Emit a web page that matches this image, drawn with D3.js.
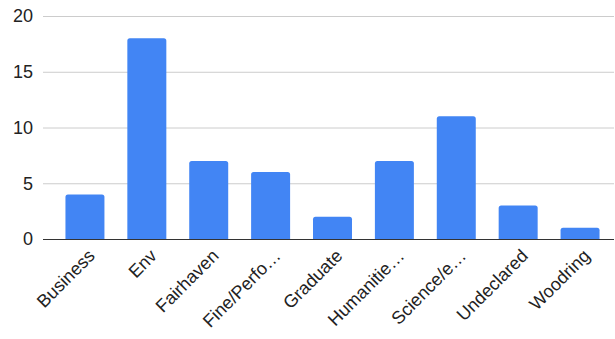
<!DOCTYPE html>
<html>
<head>
<meta charset="utf-8">
<script src="https://cdn.jsdelivr.net/npm/d3@7"></script>
<style>
  body { margin: 0; background: #fff; }
  svg { display: block; font-family: Arial, "Liberation Sans", sans-serif; }
</style>
</head>
<body>
<div id="chart"></div>
<script>
// categories + counts
var categories = ["Business", "Env", "Fairhaven", "Fine/Perfo\u2026", "Graduate",
                  "Humanitie\u2026", "Science/e\u2026", "Undeclared", "Woodring"]
var counts = [4, 18, 7, 6, 2, 7, 11, 3, 1]
var yTicks = [0, 5, 10, 15, 20]

var width = 615
var height = 339

var gridLeft = 43
var gridRight = 614

var x = d3.scaleBand().domain(categories).range([54, 611])
  .paddingInner(0.37).paddingOuter(0.185)
var y = d3.scaleLinear().domain([0, 20]).range([239, 16])

var svg = d3.select("#chart").append("svg")
  .attr("width", width)
  .attr("height", height)

// gridlines
svg.append("g").selectAll("line")
  .data(yTicks.filter(function(d) { return d > 0 }))
  .enter().append("line")
  .attr("x1", gridLeft).attr("x2", gridRight)
  .attr("y1", function(d) { return y(d) + 0.5 })
  .attr("y2", function(d) { return y(d) + 0.5 })
  .attr("stroke", "#cccccc")
  .attr("stroke-width", 1)

// y labels
svg.append("g").selectAll("text")
  .data(yTicks)
  .enter().append("text")
  .attr("x", 33)
  .attr("y", function(d) { return y(d) })
  .attr("dy", "0.35em")
  .attr("text-anchor", "end")
  .attr("font-size", 18)
  .attr("fill", "#222")
  .text(function(d) { return d })

// bars, rounded on top only
var r = 2.5
svg.append("g").selectAll("path")
  .data(counts)
  .enter().append("path")
  .attr("fill", "#4285f4")
  .attr("d", function(d, i) {
    var x0 = x(categories[i]), w = x.bandwidth()
    var top = y(d), bottom = y(0)
    return "M" + x0 + "," + bottom +
      "V" + (top + r) +
      "Q" + x0 + "," + top + " " + (x0 + r) + "," + top +
      "H" + (x0 + w - r) +
      "Q" + (x0 + w) + "," + top + " " + (x0 + w) + "," + (top + r) +
      "V" + bottom + "Z"
  })

// baseline
svg.append("line")
  .attr("x1", gridLeft).attr("x2", gridRight)
  .attr("y1", y(0) + 0.5).attr("y2", y(0) + 0.5)
  .attr("stroke", "#333333")
  .attr("stroke-width", 1)

// x labels rotated -45
svg.append("g").selectAll("text")
  .data(categories)
  .enter().append("text")
  .attr("transform", function(d) {
    return "translate(" + (x(d) + x.bandwidth() / 2 + 11) + "," + (y(0) + 18) + ") rotate(-45)"
  })
  .attr("text-anchor", "end")
  .attr("font-size", 18)
  .attr("fill", "#222")
  .text(function(d) { return d })
</script>
</body>
</html>
